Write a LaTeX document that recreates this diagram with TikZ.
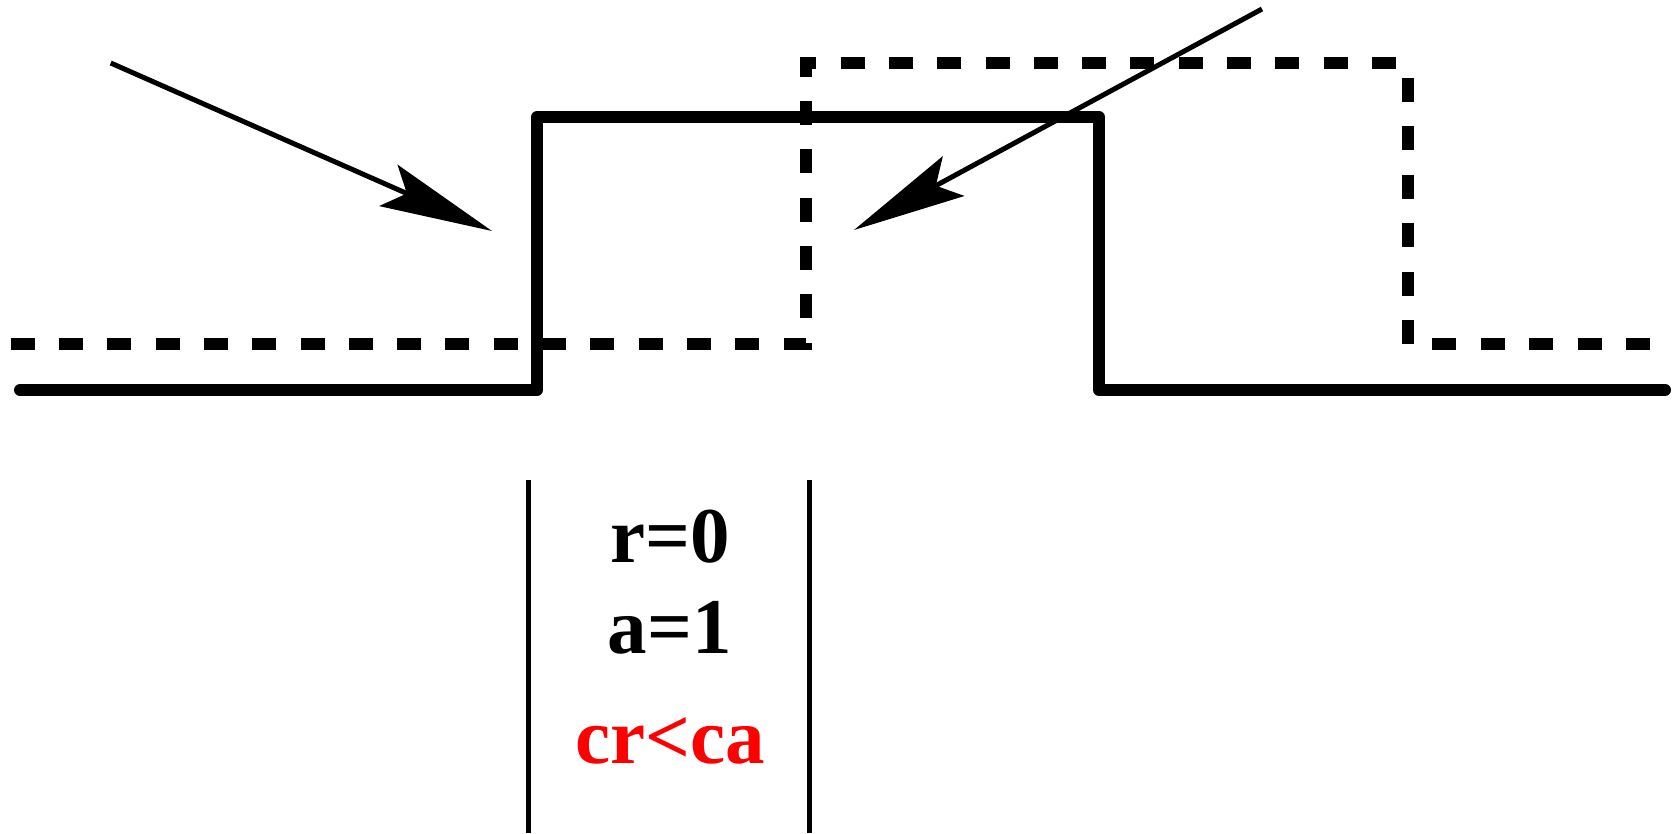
\documentclass[tikz,border=0pt]{standalone}
\usepackage{fontspec}
\setmainfont{Liberation Serif}
\usetikzlibrary{arrows.meta}
\tikzset{
  solidline/.style={line width=12pt, line cap=round, line join=round},
  dashline/.style={line width=12pt, line cap=butt, line join=miter},
  ray/.style={line width=5pt, -{Stealth[length=113pt, width=45pt, inset=20pt]}},
  divider/.style={line width=5pt},
  lbl/.style={anchor=base, inner sep=0pt, font=\fontsize{79}{90}\selectfont\bfseries}
}
\begin{document}
\begin{tikzpicture}[x=1pt,y=-1pt]
\useasboundingbox (0,0) rectangle (1674,833);
% solid step profile
\coordinate (s0) at (20,390);
\coordinate (s1) at (537,390);
\coordinate (s2) at (537,117);
\coordinate (s3) at (1099,117);
\coordinate (s4) at (1099,390);
\coordinate (s5) at (1665,390);
\draw[solidline] (s0) -- (s1) -- (s2) -- (s3) -- (s4) -- (s5);
% dashed step profile
\coordinate (d0) at (10.7,344);
\coordinate (d1) at (806,344);
\coordinate (d2) at (806,63);
\coordinate (d3) at (1400,63);
\coordinate (d4) at (1408,78);
\coordinate (d5) at (1408,344);
\coordinate (d6) at (1650,344);
\draw[dashline, dash pattern=on 24pt off 24.3pt] (d0) -- (d1) -- (d2) -- (d3);
\draw[dashline, dash pattern=on 24pt off 24.4pt] (d4) -- (d5) -- (d6);
% rays
\coordinate (a1s) at (110.7,63);
\coordinate (a1e) at (492,231);
\coordinate (a2s) at (1262,9);
\coordinate (a2e) at (854,230);
\draw[ray] (a1s) -- (a1e);
\draw[ray] (a2s) -- (a2e);
% dividers
\coordinate (v1t) at (528,480);
\coordinate (v1b) at (528,833);
\coordinate (v2t) at (809,480);
\coordinate (v2b) at (809,833);
\draw[divider] (v1t) -- (v1b);
\draw[divider] (v2t) -- (v2b);
% labels
\node[lbl] (t1) at (670,562) {r=0};
\node[lbl] (t2) at (670,653) {a=1};
\node[lbl, text={rgb,255:red,255;green,0;blue,0}] (t3) at (670,763) {cr<ca};
\end{tikzpicture}
\end{document}
